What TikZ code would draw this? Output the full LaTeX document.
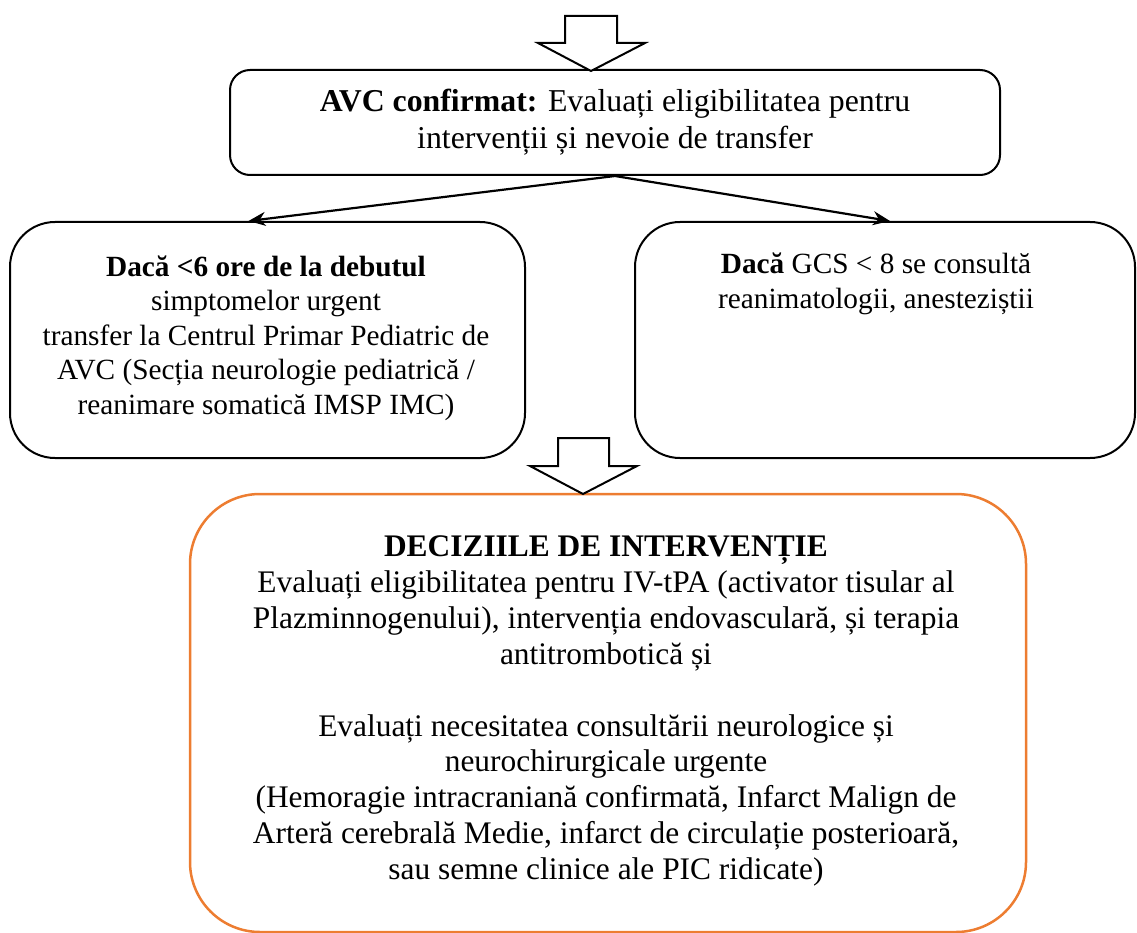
\documentclass[tikz,border=0pt]{standalone}
\usepackage{fontspec}
\setmainfont{Liberation Serif}
\usetikzlibrary{arrows.meta}
\definecolor{accent}{HTML}{ED7D31}
\tikzset{
  stdbox/.style={draw=black, line width=2pt, rectangle, inner sep=0pt},
  txt/.style={align=center, font=\fontsize{29.3}{34.5}\selectfont, inner sep=0pt},
  flow/.style={line width=2.2pt, -{Stealth[length=17pt,width=14pt]}},
  blockarrow/.style={draw=black, line width=2pt, fill=white, line join=miter},
}
\begin{document}
\begin{tikzpicture}[x=1pt, y=-1pt]
\useasboundingbox (0,0) rectangle (1137,933);

% confirmed stroke
\node[stdbox, rounded corners=20pt, minimum width=770pt, minimum height=105pt,
      align=center, font=\fontsize{31.8}{37}\selectfont] (avc) at (615,122.5)
  {\textbf{AVC confirmat:} Evaluați eligibilitatea pentru\\
   intervenții și nevoie de transfer};

% two branches
\node[stdbox, rounded corners=45pt, minimum width=515pt, minimum height=236pt] (early) at (267.5,340) {};
\node[txt] (earlytxt) at (266,338)
  {\textbf{Dacă <6 ore de la debutul}\\
   simptomelor urgent\\
   transfer la Centrul Primar Pediatric de\\
   AVC (Secția neurologie pediatrică /\\
   reanimare somatică IMSP IMC)};

\node[stdbox, rounded corners=45pt, minimum width=500pt, minimum height=236pt] (gcs) at (885,340) {};
\node[txt, anchor=north] (gcstxt) at (876,253)
  {\textbf{Dacă} GCS < 8 se consultă\\
   reanimatologii, anesteziștii};

% intervention decisions
\node[draw=accent, line width=2.5pt, rounded corners=70pt, minimum width=836pt, minimum height=438pt,
      inner sep=0pt] (dec) at (608,713) {};
\node[align=center, inner sep=0pt, font=\fontsize{31.4}{35.9}\selectfont] (dectxt) at (606,711)
  {\textbf{DECIZIILE DE INTERVENȚIE}\\
   Evaluați eligibilitatea pentru IV-tPA (activator tisular al\\
   Plazminnogenului), intervenția endovasculară, și terapia\\
   antitrombotică și\\[35.9pt]
   Evaluați necesitatea consultării neurologice și\\
   neurochirurgicale urgente\\
   (Hemoragie intracraniană confirmată, Infarct Malign de\\
   Arteră cerebrală Medie, infarct de circulație posterioară,\\
   sau semne clinice ale PIC ridicate)};

% connectors
\draw[flow] (avc.south) -- ([xshift=-19pt]early.north);
\draw[flow] (avc.south) -- ([xshift=5pt]gcs.north);

% block arrows
\draw[blockarrow] (565,16) -- (617,16) -- (617,43) -- (645,43) -- (591,71)
  -- (538,43) -- (565,43) -- cycle;
\draw[blockarrow] (558,438) -- (609,438) -- (609,466) -- (637,466) -- (583,494)
  -- (530,466) -- (558,466) -- cycle;
\end{tikzpicture}
\end{document}
